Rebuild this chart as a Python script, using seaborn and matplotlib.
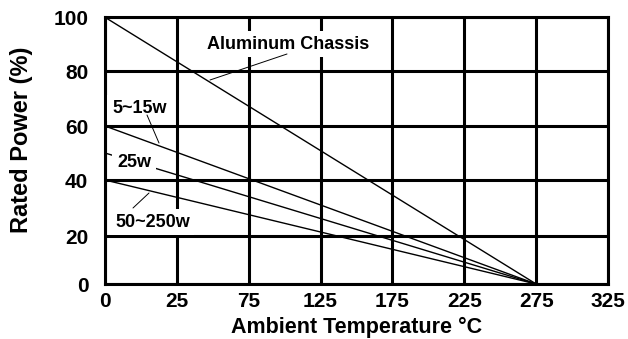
import numpy as np
import pandas as pd
import matplotlib
matplotlib.use("Agg")
import matplotlib.pyplot as plt
import seaborn as sns

# Derating curves: rated power (%) vs ambient temperature (°C)
series_names = ["Aluminum Chassis", "5~15w", "25w", "50~250w"]
temp_points = [0, 275]
power_aluminum = [100, 0]
power_5_15w = [60, 0]
power_25w = [50, 0]
power_50_250w = [40, 0]

x_ticks = [0, 25, 75, 125, 175, 225, 275, 325]
y_ticks = [0, 20, 40, 60, 80, 100]

df = pd.DataFrame({
    "temp": temp_points * 4,
    "power": power_aluminum + power_5_15w + power_25w + power_50_250w,
    "series": [n for n in series_names for _ in temp_points],
})

# The printed chart uses evenly spaced grid columns for uneven tick values,
# and a slightly shorter bottom row; reproduce that with piecewise scales.
x_grid_pos = [0, 1, 2, 3, 4, 5, 6, 7]
y_grid_pos = [0, 48, 104, 158, 213, 266.7]


def piecewise(src, dst):
    src = np.asarray(src, float)
    dst = np.asarray(dst, float)
    s0 = (dst[1] - dst[0]) / (src[1] - src[0])
    s1 = (dst[-1] - dst[-2]) / (src[-1] - src[-2])

    def f(v):
        v = np.asarray(v, float)
        out = np.interp(v, src, dst)
        out = np.where(v < src[0], dst[0] + (v - src[0]) * s0, out)
        out = np.where(v > src[-1], dst[-1] + (v - src[-1]) * s1, out)
        return out
    return f


sns.set_theme(style="white")
plt.rcParams["font.family"] = ["Liberation Sans", "DejaVu Sans"]
plt.rcParams["font.weight"] = "bold"

fig = plt.figure(figsize=(6.28, 3.39), dpi=100)
ax = fig.add_axes([105 / 628, 1 - 284 / 339, 503 / 628, 266.7 / 339])

sns.lineplot(data=df, x="temp", y="power", hue="series", units="series",
             estimator=None, sort=False, palette=["black"] * 4,
             linewidth=1.0, legend=False, ax=ax, zorder=2)

ax.set_xscale("function", functions=(piecewise(x_ticks, x_grid_pos),
                                     piecewise(x_grid_pos, x_ticks)))
ax.set_yscale("function", functions=(piecewise(y_ticks, y_grid_pos),
                                     piecewise(y_grid_pos, y_ticks)))
ax.set_xlim(0, 325)
ax.set_ylim(0, 100)
ax.set_xticks(x_ticks)
ax.set_xticklabels([str(t) for t in x_ticks])
ax.set_yticks(y_ticks)
ax.set_yticklabels([str(t) for t in y_ticks])
ax.minorticks_off()

ax.set_axisbelow(True)
ax.grid(True, color="black", linewidth=2.2)
for sp in ax.spines.values():
    sp.set_color("black")
    sp.set_linewidth(2.2)
ax.tick_params(axis="both", length=0, labelsize=15, labelcolor="black")
ax.tick_params(axis="x", pad=6)
ax.tick_params(axis="y", pad=12)
for lbl in ax.get_xticklabels() + ax.get_yticklabels():
    lbl.set_fontweight("bold")

ax.set_xlabel("Ambient Temperature °C", fontsize=15.5, fontweight="bold",
              color="black", labelpad=4)
ax.set_ylabel("Rated Power (%)", fontsize=17, fontweight="bold",
              color="black", va="center")
ax.yaxis.set_label_coords((22 - 105) / 503, (284 - 140) / 266.7)


def px(x, y):
    """Convert figure pixel coordinates to axes fraction."""
    return ((x - 105) / 503, (284 - y) / 266.7)


box = dict(boxstyle="square,pad=0.25", fc="white", ec="none")
label_style = dict(fontsize=13, fontweight="bold", color="black",
                   transform=ax.transAxes, zorder=4, bbox=box)

ax.text(*px(288, 44), "Aluminum Chassis", ha="center", va="center", **label_style)
ax.text(*px(112, 108), "5~15w", ha="left", va="center", **label_style)
ax.text(*px(117, 162), "25w", ha="left", va="center", **label_style)
ax.text(*px(115, 222), "50~250w", ha="left", va="center", **label_style)

leaders = [((287, 54), (210, 80)), ((147, 115), (159, 143)),
           ((133, 208), (149, 193))]
for start, end in leaders:
    ax.annotate("", xy=px(*end), xycoords="axes fraction",
                xytext=px(*start), textcoords="axes fraction",
                arrowprops=dict(arrowstyle="-", color="black", lw=0.7,
                                shrinkA=0, shrinkB=0), zorder=5)

fig.savefig("out.png", dpi=100)
